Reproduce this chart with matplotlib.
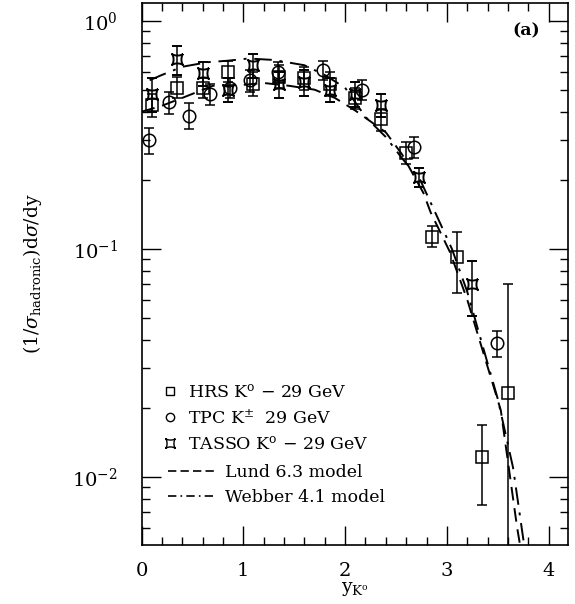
import numpy as np
import matplotlib
matplotlib.use("Agg")
import matplotlib.pyplot as plt
from matplotlib.path import Path
from matplotlib.lines import Line2D
from matplotlib.ticker import LogLocator, NullFormatter, MultipleLocator

plt.rcParams['font.family'] = ['DejaVu Serif']
plt.rcParams['mathtext.fontset'] = 'dejavuserif'

# ---------------- data ----------------
hrs_x = [0.1, 0.35, 0.6, 0.85, 1.1, 1.35, 1.6, 1.85, 2.1, 2.35, 2.6, 2.85, 3.1, 3.35, 3.6]
hrs_y = [0.43, 0.51, 0.51, 0.60, 0.53, 0.57, 0.56, 0.53, 0.46, 0.37, 0.265, 0.113, 0.092, 0.0122, 0.0234]
hrs_elo = [0.05, 0.05, 0.05, 0.06, 0.06, 0.06, 0.06, 0.06, 0.05, 0.04, 0.03, 0.011, 0.028, 0.0047, 0.0229]
hrs_ehi = [0.05, 0.06, 0.05, 0.07, 0.07, 0.07, 0.07, 0.07, 0.05, 0.04, 0.03, 0.013, 0.027, 0.0047, 0.047]

tpc_x = [0.07, 0.27, 0.47, 0.67, 0.87, 1.07, 1.34, 1.78, 2.17, 2.68, 3.49]
tpc_y = [0.30, 0.44, 0.385, 0.48, 0.51, 0.55, 0.60, 0.61, 0.50, 0.28, 0.0387]
tpc_err = [0.04, 0.05, 0.05, 0.05, 0.05, 0.06, 0.06, 0.06, 0.05, 0.03, 0.005]

tasso_x = [0.1, 0.35, 0.6, 0.85, 1.1, 1.35, 1.6, 1.85, 2.1, 2.35, 2.73, 3.25]
tasso_y = [0.48, 0.68, 0.59, 0.50, 0.64, 0.53, 0.54, 0.50, 0.48, 0.43, 0.207, 0.070]
tasso_err = [0.08, 0.10, 0.07, 0.06, 0.08, 0.07, 0.07, 0.06, 0.06, 0.05, 0.02, 0.019]

lund_x = [0.0, 0.2, 0.4, 0.7, 1.0, 1.2, 1.45, 1.7, 1.9, 2.1, 2.4, 2.56, 2.77, 2.84, 3.03, 3.2, 3.53, 3.69, 3.72]
lund_y = [0.40, 0.425, 0.46, 0.52, 0.525, 0.535, 0.52, 0.50, 0.46, 0.405, 0.325, 0.26, 0.176, 0.145, 0.097, 0.06, 0.0196, 0.006, 0.005]

webber_x = [0.08, 0.2, 0.4, 0.65, 0.85, 1.05, 1.3, 1.6, 1.8, 2.0, 2.2, 2.4, 2.56, 2.74, 2.9, 3.05, 3.2, 3.5, 3.65, 3.76]
webber_y = [0.55, 0.58, 0.63, 0.66, 0.67, 0.685, 0.675, 0.64, 0.58, 0.51, 0.38, 0.31, 0.25, 0.20, 0.14, 0.10, 0.065, 0.022, 0.011, 0.005]

labels = [r"HRS K$^{\rm o}$ $-$ 29 GeV", r"TPC K$^{\pm}$  29 GeV", r"TASSO K$^{\rm o}$ $-$ 29 GeV",
          "Lund 6.3 model", "Webber 4.1 model"]

# ---------------- figure ----------------
fig = plt.figure(figsize=(5.75, 6.04), dpi=100)
ax = fig.add_axes([141.5/575, 59/604, (568-141.5)/575, (545-3)/604])

# TASSO marker: concave four-pointed shape
t = np.linspace(0, 2*np.pi, 49)
ax_ = np.cos(t)**3
ay_ = np.sin(t)**3
rot = np.pi/4
vx = ax_*np.cos(rot) - ay_*np.sin(rot)
vy = ax_*np.sin(rot) + ay_*np.cos(rot)
star = Path(np.column_stack([vx, vy]))

ax.plot(lund_x, lund_y, color='black', lw=1.4, ls=(0, (7, 4)))
ax.plot(webber_x, webber_y, color='black', lw=1.4, ls=(0, (9, 4, 1.5, 4)))

ekw = dict(ecolor='black', elinewidth=1.1, capsize=3.5, capthick=1.1, ls='none')
ax.errorbar(hrs_x, hrs_y, yerr=[hrs_elo, hrs_ehi], marker='s', ms=8, mfc='none', mec='black', mew=1.1, **ekw)
ax.errorbar(tpc_x, tpc_y, yerr=tpc_err, marker='o', ms=9, mfc='none', mec='black', mew=1.1, **ekw)
ax.errorbar(tasso_x, tasso_y, yerr=tasso_err, marker=star, ms=8, mfc='none', mec='black', mew=1.4, **ekw)

ax.set_yscale('log')
ax.set_xlim(0, 4.19)
ax.set_ylim(0.00503, 1.2)

ax.xaxis.set_major_locator(MultipleLocator(1))
ax.xaxis.set_minor_locator(MultipleLocator(0.2))
ax.yaxis.set_major_locator(LogLocator(base=10, numticks=10))
ax.yaxis.set_minor_locator(LogLocator(base=10, subs=np.arange(2, 10), numticks=20))
ax.yaxis.set_minor_formatter(NullFormatter())
ax.tick_params(which='both', direction='in', top=True, right=True, labelsize=14, width=1.0)
ax.tick_params(which='major', length=14)
ax.tick_params(which='minor', length=6)
ax.tick_params(axis='x', pad=12)
ax.tick_params(axis='y', pad=17)
for s in ax.spines.values():
    s.set_linewidth(1.2)

ax.set_ylabel(r"(1/$\sigma_{\rm hadronic}$)d$\sigma$/dy", fontsize=13.5, labelpad=20)
ax.set_xlabel(r"y$_{\rm K^o}$", fontsize=13.5, labelpad=0)

ax.text(0.935, 0.965, "(a)", transform=ax.transAxes, ha='right', va='top', fontsize=12.5, fontweight='bold')

# legends
h1 = [Line2D([], [], ls='none', marker='s', ms=6, mfc='none', mec='black', mew=1.0),
      Line2D([], [], ls='none', marker='o', ms=6, mfc='none', mec='black', mew=1.0),
      Line2D([], [], ls='none', marker=star, ms=7, mfc='none', mec='black', mew=1.0)]
leg1 = ax.legend(h1, labels[:3], loc='upper left', bbox_to_anchor=(0.035, 0.312), frameon=False,
                 fontsize=12.5, handlelength=0.8, handletextpad=0.6, labelspacing=0.45, borderaxespad=0)
ax.add_artist(leg1)
h2 = [Line2D([], [], color='black', lw=1.2, ls=(0, (5, 2.5))),
      Line2D([], [], color='black', lw=1.2, ls=(0, (5, 2.5, 1, 2.5)))]
ax.legend(h2, labels[3:], loc='upper left', bbox_to_anchor=(0.045, 0.162), frameon=False,
          fontsize=12.5, handlelength=2.8, handletextpad=0.5, labelspacing=0.45, borderaxespad=0)

fig.savefig("out.png", dpi=100)
